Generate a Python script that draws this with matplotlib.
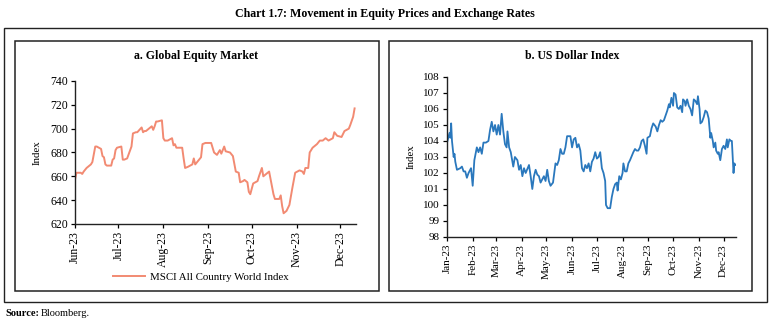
import numpy as np
import pandas as pd
import matplotlib
matplotlib.use("Agg")
import matplotlib.pyplot as plt
import matplotlib.dates as mdates
from matplotlib.patches import Rectangle

# MSCI All Country World Index (Jun - Dec 2023)
msci_dates = [
    "06-01", "06-02", "06-05", "06-06", "06-07", "06-09", "06-12", "06-13", "06-15", "06-16",
    "06-19", "06-20", "06-21", "06-22", "06-23", "06-26", "06-27", "06-28", "06-29", "06-30",
    "07-03", "07-04", "07-05", "07-07", "07-10", "07-11", "07-13", "07-14", "07-17", "07-18",
    "07-19", "07-20", "07-21", "07-24", "07-25", "07-26", "07-27", "07-28", "07-31", "08-01",
    "08-02", "08-04", "08-07", "08-08", "08-09", "08-10", "08-14", "08-15", "08-16", "08-18",
    "08-21", "08-22", "08-23", "08-25", "08-27", "08-28", "08-30", "09-03", "09-05", "09-07",
    "09-08", "09-09", "09-10", "09-12", "09-13", "09-16", "09-18", "09-20", "09-22", "09-23",
    "09-25", "09-26", "09-28", "09-29", "09-30", "10-02", "10-05", "10-06", "10-08", "10-09",
    "10-11", "10-13", "10-16", "10-17", "10-20", "10-21", "10-22", "10-23", "10-25", "10-27",
    "10-29", "10-31", "11-03", "11-05", "11-06", "11-07", "11-09", "11-10", "11-12", "11-15",
    "11-17", "11-19", "11-21", "11-22", "11-23", "11-26", "11-27", "11-29", "12-02", "12-04",
    "12-07", "12-08", "12-10", "12-11",
]
msci_values = [
    657, 663, 663, 662, 664, 667, 670, 672, 685, 685,
    683, 677, 676, 670, 669, 669, 674, 675, 682, 684,
    685, 674, 674, 675, 685, 696, 697, 697, 701, 697,
    698, 698, 699, 702, 699, 702, 706, 706, 707, 692,
    690, 690, 692, 686, 687, 684, 684, 675, 667, 668,
    670, 675, 670, 673, 676, 687, 688, 688, 680, 678,
    680, 682, 679, 685, 681, 680, 677, 664, 663, 655,
    656, 657, 655, 647, 645, 654, 656, 660, 667, 660,
    662, 664, 645, 641, 641, 644, 635, 629, 631, 636,
    650, 663, 665, 664, 662, 667, 667, 680, 684, 687,
    690, 690, 692, 691, 690, 692, 697, 694, 693, 698,
    700, 703, 710, 717,
]

# US Dollar Index (Jan - Dec 2023)
dxy_dates = [
    "01-01", "01-02", "01-04", "01-05", "01-06", "01-07", "01-09", "01-10", "01-11", "01-13",
    "01-17", "01-19", "01-21", "01-23", "01-25", "01-27", "01-30", "02-01", "02-03", "02-06",
    "02-08", "02-10", "02-12", "02-14", "02-17", "02-20", "02-22", "02-24", "02-26", "02-28",
    "03-02", "03-04", "03-06", "03-08", "03-10", "03-12", "03-14", "03-15", "03-17", "03-19",
    "03-22", "03-24", "03-27", "03-29", "03-31", "04-02", "04-04", "04-06", "04-10", "04-12",
    "04-14", "04-16", "04-18", "04-20", "04-22", "04-24", "04-26", "04-28", "04-30", "05-02",
    "05-04", "05-06", "05-09", "05-12", "05-14", "05-16", "05-18", "05-20", "05-22", "05-24",
    "05-26", "05-30", "06-01", "06-03", "06-05", "06-07", "06-09", "06-11", "06-13", "06-15",
    "06-17", "06-19", "06-21", "06-23", "06-25", "06-27", "06-29", "07-01", "07-03", "07-05",
    "07-07", "07-09", "07-11", "07-12", "07-14", "07-17", "07-19", "07-21", "07-23", "07-25",
    "07-26", "07-28", "07-30", "08-01", "08-02", "08-04", "08-06", "08-08", "08-10", "08-14",
    "08-16", "08-18", "08-20", "08-22", "08-24", "08-26", "08-28", "08-30", "08-31", "09-03",
    "09-05", "09-07", "09-10", "09-12", "09-14", "09-16", "09-18", "09-20", "09-22", "09-24",
    "09-26", "09-27", "09-29", "10-01", "10-02", "10-04", "10-06", "10-08", "10-10", "10-12",
    "10-13", "10-15", "10-16", "10-18", "10-20", "10-22", "10-24", "10-26", "10-28", "10-30",
    "10-31", "11-02", "11-03", "11-05", "11-07", "11-09", "11-11", "11-13", "11-15", "11-16",
    "11-18", "11-19", "11-21", "11-22", "11-24", "11-25", "11-27", "11-29", "12-01", "12-03",
    "12-05", "12-06", "12-08", "12-10", "12-11", "12-13", "12-14", "12-15",
]
dxy_values = [
    103.9, 104.1, 104.5, 104.2, 105.1, 104.0, 103.0, 103.2, 102.7, 102.2,
    102.3, 102.4, 102.1, 102.1, 101.7, 102.0, 102.3, 101.2, 102.8, 103.6,
    103.3, 103.6, 103.2, 103.9, 103.9, 104.0, 104.7, 105.2, 104.6, 105.0,
    104.4, 105.0, 104.4, 105.7, 104.6, 103.8, 103.6, 104.6, 103.6, 103.3,
    102.4, 103.0, 102.8, 102.2, 102.5, 101.8, 102.3, 102.0, 102.5, 101.8,
    101.0, 101.8, 102.2, 101.9, 101.8, 101.4, 101.6, 101.8, 101.5, 102.2,
    101.5, 101.2, 101.4, 102.6, 102.5, 102.8, 103.5, 103.2, 103.2, 103.6,
    104.3, 104.3, 103.6, 104.1, 104.2, 103.6, 103.8, 103.4, 102.3, 102.1,
    102.5, 102.3, 102.6, 102.1, 102.7, 102.9, 103.3, 102.9, 103.0, 103.3,
    102.3, 102.0, 101.5, 100.0, 99.8, 99.8, 100.5, 101.0, 101.3, 101.4,
    100.9, 101.8, 101.6, 102.0, 102.6, 102.1, 102.1, 102.6, 102.8, 103.3,
    103.5, 103.4, 103.4, 103.6, 104.0, 104.1, 103.7, 103.2, 104.2, 104.3,
    104.8, 105.1, 104.9, 104.6, 105.0, 105.3, 105.2, 105.3, 105.6, 105.9,
    106.3, 106.1, 106.7, 106.2, 107.0, 106.9, 106.1, 106.0, 106.2, 105.8,
    106.6, 106.5, 106.2, 106.6, 106.2, 106.0, 105.6, 106.6, 106.5, 106.3,
    106.8, 106.0, 105.1, 105.2, 105.5, 105.9, 105.8, 105.4, 104.2, 104.5,
    104.0, 103.6, 103.9, 103.4, 103.2, 103.3, 102.8, 103.5, 103.7, 103.5,
    104.1, 103.6, 104.1, 104.0, 104.0, 102.0, 102.6, 102.5,
]

msci_x = pd.to_datetime(["2023-" + d for d in msci_dates])
dxy_x = pd.to_datetime(["2023-" + d for d in dxy_dates])

plt.rcParams["font.family"] = ["Liberation Serif", "DejaVu Serif"]
plt.rcParams["font.size"] = 7.5

fig = plt.figure(figsize=(7.69, 3.25), dpi=100)

# frames around the whole chart and each panel
fig.patches.append(Rectangle((0.0052, 0.0708), 0.9922, 0.843, transform=fig.transFigure,
                             fill=False, edgecolor="#222222", linewidth=1.0))
fig.patches.append(Rectangle((0.0195, 0.1046), 0.4733, 0.769, transform=fig.transFigure,
                             fill=False, edgecolor="#222222", linewidth=1.1))
fig.patches.append(Rectangle((0.5059, 0.1046), 0.472, 0.769, transform=fig.transFigure,
                             fill=False, edgecolor="#222222", linewidth=1.1))

fig.text(0.5, 0.958, "Chart 1.7: Movement in Equity Prices and Exchange Rates",
         ha="center", va="center", fontsize=8.6, fontweight="bold")
fig.text(0.255, 0.828, "a. Global Equity Market", ha="center", va="center",
         fontsize=8.5, fontweight="bold")
fig.text(0.744, 0.828, "b. US Dollar Index", ha="center", va="center",
         fontsize=8.5, fontweight="bold")

fig.text(0.0065, 0.034, "Source:", ha="left", va="center", fontsize=7.5, fontweight="bold")
fig.text(0.0535, 0.034, "Bloomberg.", ha="left", va="center", fontsize=7.5)


def style_axis(ax, size):
    for side in ("top", "right"):
        ax.spines[side].set_visible(False)
    for side in ("left", "bottom"):
        ax.spines[side].set_linewidth(1.0)
        ax.spines[side].set_color("#222222")
    ax.tick_params(axis="both", direction="out", length=3, width=0.9, pad=2, labelsize=size)
    ax.xaxis.set_major_locator(mdates.MonthLocator())
    ax.xaxis.set_major_formatter(mdates.DateFormatter("%b-%y"))
    for lbl in ax.get_xticklabels():
        lbl.set_rotation(90)
    ax.set_ylabel("Index", fontsize=7.8)


ax1 = fig.add_axes([0.0975, 0.3108, 0.3655, 0.44])
ax1.plot(msci_x, msci_values, color="#F28A72", linewidth=1.4, label="MSCI All Country World Index")
ax1.set_ylim(620, 740)
ax1.set_yticks(np.arange(620, 741, 20))
ax1.set_xlim(pd.Timestamp("2023-06-01"), pd.Timestamp("2023-12-12"))
style_axis(ax1, 8.5)
ax1.yaxis.set_label_coords(-0.117, 0.5)
fig.legend(loc="center", bbox_to_anchor=(0.261, 0.148), frameon=False, fontsize=7.8,
           handlelength=3.0, handletextpad=0.4)

ax2 = fig.add_axes([0.5813, 0.2708, 0.3758, 0.4923])
ax2.plot(dxy_x, dxy_values, color="#2A78BD", linewidth=1.3)
ax2.set_ylim(98, 108)
ax2.set_yticks(np.arange(98, 109, 1))
ax2.set_xlim(pd.Timestamp("2023-01-01"), pd.Timestamp("2023-12-16"))
style_axis(ax2, 8)
ax2.yaxis.set_label_coords(-0.107, 0.5)

fig.savefig("out.png", dpi=100)
